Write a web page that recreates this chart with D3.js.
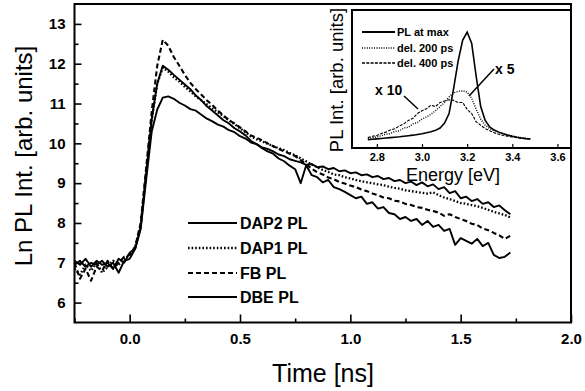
<!DOCTYPE html>
<html><head><meta charset="utf-8">
<script src="https://cdn.jsdelivr.net/npm/d3@7"></script>
<style>body{margin:0;background:#fff} svg{display:block}</style>
</head><body><svg id="c" width="585" height="391"></svg>
<script>
// ---- main panel data ----
const time = [-0.25,-0.225,-0.2,-0.175,-0.15,-0.125,-0.1,-0.075,-0.05,-0.025,
  0,0.025,0.05,0.075,0.1,0.125,0.15,0.175,0.2,0.225,
  0.25,0.275,0.3,0.325,0.35,0.375,0.4,0.425,0.45,0.475,
  0.5,0.525,0.55,0.575,0.6,0.625,0.65,0.675,0.7,0.725,
  0.75,0.775,0.8,0.825,0.85,0.875,0.9,0.925,0.95,0.975,
  1.0,1.025,1.05,1.075,1.1,1.125,1.15,1.175,1.2,1.225,
  1.25,1.275,1.3,1.325,1.35,1.375,1.4,1.425,1.45,1.475,
  1.5,1.525,1.55,1.575,1.6,1.625,1.65,1.675,1.7,1.725];
const dap2 = [6.95,7.05,6.9,7.0,6.95,7.05,6.9,7.0,6.75,7.05,
  7.1,7.35,7.85,9.1,10.3,10.85,11.15,11.18,11.12,11.02,
  10.95,10.86,10.82,10.72,10.62,10.55,10.47,10.42,10.33,10.28,
  10.18,10.12,10.02,9.98,9.9,9.86,9.8,9.72,9.68,9.6,
  9.56,9.52,9.46,9.48,9.4,9.42,9.35,9.38,9.3,9.32,
  9.25,9.27,9.2,9.22,9.15,9.18,9.1,9.13,9.05,9.08,
  9.0,9.04,8.95,9.02,8.92,8.97,8.85,8.9,8.75,8.8,
  8.62,8.66,8.55,8.6,8.48,8.52,8.4,8.44,8.32,8.22];
const dap1 = [6.85,6.7,6.95,6.8,7.0,6.75,6.9,7.05,6.95,7.1,
  7.2,7.4,7.95,9.3,10.6,11.5,11.9,11.8,11.66,11.55,
  11.42,11.3,11.18,11.08,10.98,10.88,10.78,10.68,10.58,10.48,
  10.38,10.28,10.17,10.1,10.05,9.99,9.93,9.88,9.83,9.76,
  9.7,9.62,9.55,9.47,9.4,9.33,9.28,9.22,9.2,9.15,
  9.12,9.08,9.05,9.02,9.0,8.97,8.95,8.91,8.88,8.86,
  8.82,8.8,8.78,8.76,8.74,8.77,8.7,8.64,8.6,8.55,
  8.5,8.48,8.45,8.42,8.38,8.33,8.28,8.24,8.2,8.14];
const fb = [7.0,6.6,6.85,6.55,6.9,6.8,7.05,6.85,7.0,7.15,
  7.2,7.4,8.0,9.4,10.8,11.95,12.6,12.45,12.17,11.95,
  11.72,11.52,11.36,11.22,11.08,10.96,10.82,10.7,10.58,10.5,
  10.4,10.3,10.2,10.14,10.08,10.0,9.93,9.86,9.8,9.74,
  9.68,9.58,9.48,9.36,9.27,9.22,9.14,9.1,9.03,8.99,
  8.94,8.9,8.84,8.8,8.74,8.7,8.64,8.62,8.56,8.54,
  8.48,8.45,8.4,8.38,8.33,8.3,8.26,8.18,8.22,8.15,
  8.1,8.05,7.98,7.95,7.86,7.82,7.75,7.69,7.6,7.68];
const dbe = [7.05,6.95,7.1,6.9,7.05,6.95,7.0,6.85,7.1,7.0,
  7.25,7.35,7.9,9.25,10.6,11.5,11.95,11.85,11.72,11.6,
  11.48,11.36,11.2,11.08,10.93,10.82,10.7,10.58,10.5,10.38,
  10.3,10.2,10.06,9.98,9.88,9.8,9.74,9.62,9.55,9.44,
  9.35,9.0,9.45,9.2,9.15,9.02,9.08,8.9,8.85,8.78,
  8.7,8.62,8.66,8.48,8.52,8.36,8.4,8.25,8.22,8.1,
  8.15,8.05,8.1,7.95,8.05,7.9,7.95,7.8,7.85,7.45,
  7.62,7.55,7.48,7.6,7.42,7.5,7.2,7.12,7.15,7.26];
const seriesNames = ["DAP2 PL","DAP1 PL","FB PL","DBE PL"];
const xMajor = [0,0.5,1.0,1.5,2.0];
const xMinor = [-0.25,0.25,0.75,1.25,1.75];
const yMajor = [6,7,8,9,10,11,12,13];
const yMinor = [6.5,7.5,8.5,9.5,10.5,11.5,12.5];

// ---- inset data ----
const energy = [2.76,2.78,2.80,2.82,2.84,2.86,2.88,2.90,2.92,2.94,2.96,2.98,
  3.00,3.02,3.04,3.06,3.08,3.10,3.12,3.14,3.16,3.18,3.20,3.22,3.24,3.26,
  3.28,3.30,3.32,3.34,3.36,3.38,3.40,3.42,3.44,3.46,3.48];
const plMax = [0.06,0.063,0.066,0.069,0.072,0.075,0.078,0.081,0.085,0.089,0.093,0.098,
  0.103,0.11,0.118,0.128,0.145,0.18,0.25,0.43,0.63,0.78,0.84,0.76,0.52,0.3,
  0.2,0.152,0.13,0.115,0.103,0.093,0.085,0.078,0.072,0.068,0.065];
const del200 = [0.07,0.075,0.08,0.09,0.1,0.105,0.12,0.125,0.145,0.15,0.175,0.185,
  0.21,0.225,0.245,0.27,0.3,0.33,0.37,0.4,0.41,0.415,0.405,0.36,0.28,0.21,
  0.165,0.14,0.125,0.115,0.104,0.095,0.088,0.08,0.075,0.07,0.066];
const del400 = [0.075,0.085,0.09,0.105,0.115,0.13,0.14,0.16,0.175,0.2,0.215,0.25,
  0.27,0.285,0.31,0.3,0.33,0.34,0.35,0.345,0.33,0.33,0.28,0.25,0.19,0.165,
  0.14,0.125,0.11,0.1,0.09,0.085,0.08,0.075,0.07,0.068,0.065];
const insetNames = ["PL at max","del. 200 ps","del. 400 ps"];
const eTicks = [2.8,3.0,3.2,3.4,3.6];

const FONT = "'Liberation Sans', Arial, Helvetica, sans-serif";
const svg = d3.select("#c").style("font-family", FONT);
svg.append("rect").attr("width",585).attr("height",391).attr("fill","#fff");

const L=74.5, R=571, T=4, B=322.5;
const x = d3.scaleLinear().domain([-0.25,2.0]).range([L,R]);
const y = d3.scaleLinear().domain([5.5,13.5]).range([B,T]);

// axes
const gx = svg.append("g").attr("transform",`translate(0,${B})`)
  .call(d3.axisBottom(x).tickValues(xMajor).tickSizeInner(-8).tickSizeOuter(0)
    .tickPadding(11).tickFormat(d3.format(".1f")));
gx.append("g").call(d3.axisBottom(x).tickValues(xMinor).tickSizeInner(-4).tickSizeOuter(0).tickFormat(""));
const gy = svg.append("g").attr("transform",`translate(${L},0)`)
  .call(d3.axisLeft(y).tickValues(yMajor).tickSizeInner(-7).tickSizeOuter(0)
    .tickPadding(9).tickFormat(d3.format("d")));
gy.append("g").call(d3.axisLeft(y).tickValues(yMinor).tickSizeInner(-4).tickSizeOuter(0).tickFormat(""));
svg.selectAll(".domain").remove();
svg.selectAll(".tick line").attr("stroke","#000").attr("stroke-width",1.6);
svg.selectAll(".tick text").attr("font-family",FONT).attr("font-size",15)
  .attr("font-weight","bold").attr("fill","#000");

// series lines
const line = d3.line().x((d,i)=>x(time[i])).y(d=>y(d));
const styles = [
  {data:dap2, dash:null, w:1.9},
  {data:dap1, dash:"1.6,2", w:2.3},
  {data:fb, dash:"5,3", w:2.1},
  {data:dbe, dash:null, w:1.9}
];
styles.forEach(s=>{
  svg.append("path").datum(s.data).attr("d",line).attr("fill","none")
    .attr("stroke","#000").attr("stroke-width",s.w).attr("stroke-linejoin","round")
    .attr("stroke-dasharray",s.dash);
});

// frame
svg.append("rect").attr("x",L).attr("y",T).attr("width",R-L).attr("height",B-T)
  .attr("fill","none").attr("stroke","#000").attr("stroke-width",2);

// legend
const legY = [223,248,273,297];
styles.forEach((s,i)=>{
  svg.append("line").attr("x1",188).attr("x2",237).attr("y1",legY[i]).attr("y2",legY[i])
    .attr("stroke","#000").attr("stroke-width",s.w).attr("stroke-dasharray",s.dash);
  svg.append("text").attr("x",240).attr("y",legY[i]).attr("dy","0.36em")
    .attr("font-size",16).attr("font-weight","bold").text(seriesNames[i]);
});

// axis titles
svg.append("text").attr("x",323).attr("y",382).attr("text-anchor","middle")
  .attr("font-size",25).text("Time [ns]");
svg.append("text").attr("transform","translate(32,156) rotate(-90)").attr("text-anchor","middle")
  .attr("font-size",24).text("Ln PL Int. [arb. units]");

// ---- inset ----
const iL=352, iR=571, iT=10, iB=148;
const ix = d3.scaleLinear().domain([2.69,3.66]).range([iL,iR]);
const iy = d3.scaleLinear().domain([0,1]).range([iB,iT]);
svg.append("rect").attr("x",iL).attr("y",iT).attr("width",iR-iL).attr("height",iB-iT)
  .attr("fill","#fff").attr("stroke","none");
const gix = svg.append("g").attr("transform",`translate(0,${iB})`)
  .call(d3.axisBottom(ix).tickValues(eTicks).tickSizeInner(-4).tickSizeOuter(0)
    .tickPadding(5).tickFormat(d3.format(".1f")));
gix.select(".domain").remove();
gix.selectAll(".tick line").attr("stroke","#000").attr("stroke-width",1.2);
gix.selectAll(".tick text").attr("font-family",FONT).attr("font-size",11)
  .attr("font-weight","bold").attr("fill","#000");

const iline = d3.line().x((d,i)=>ix(energy[i])).y(d=>iy(d));
const istyles = [
  {data:plMax, dash:null, w:1.6},
  {data:del200, dash:"1,1.4", w:1.4},
  {data:del400, dash:"3,1.3", w:1.1}
];
istyles.forEach(s=>{
  svg.append("path").datum(s.data).attr("d",iline).attr("fill","none")
    .attr("stroke","#000").attr("stroke-width",s.w).attr("stroke-dasharray",s.dash);
});
svg.append("rect").attr("x",iL).attr("y",iT).attr("width",iR-iL).attr("height",iB-iT)
  .attr("fill","none").attr("stroke","#000").attr("stroke-width",2);

const iLegY = [32,48,63];
istyles.forEach((s,i)=>{
  svg.append("line").attr("x1",362).attr("x2",395).attr("y1",iLegY[i]).attr("y2",iLegY[i])
    .attr("stroke","#000").attr("stroke-width",s.w+0.2).attr("stroke-dasharray",s.dash);
  svg.append("text").attr("x",397).attr("y",iLegY[i]).attr("dy","0.36em")
    .attr("font-size",11).attr("font-weight","bold").text(insetNames[i]);
});

// annotations
svg.append("text").attr("x",375).attr("y",95).attr("font-size",14).attr("font-weight","bold").text("x 10");
svg.append("line").attr("x1",404).attr("y1",96).attr("x2",418).attr("y2",109)
  .attr("stroke","#000").attr("stroke-width",1.5);
svg.append("text").attr("x",495).attr("y",74).attr("font-size",14).attr("font-weight","bold").text("x 5");
svg.append("line").attr("x1",494).attr("y1",69).attr("x2",469).attr("y2",96)
  .attr("stroke","#000").attr("stroke-width",1.5);

svg.append("text").attr("transform","translate(343,80) rotate(-90)").attr("text-anchor","middle")
  .attr("font-size",18.5).text("PL Int. [arb. units]");
svg.append("text").attr("x",453).attr("y",181).attr("text-anchor","middle")
  .attr("font-size",18).text("Energy [eV]");
</script></body></html>
